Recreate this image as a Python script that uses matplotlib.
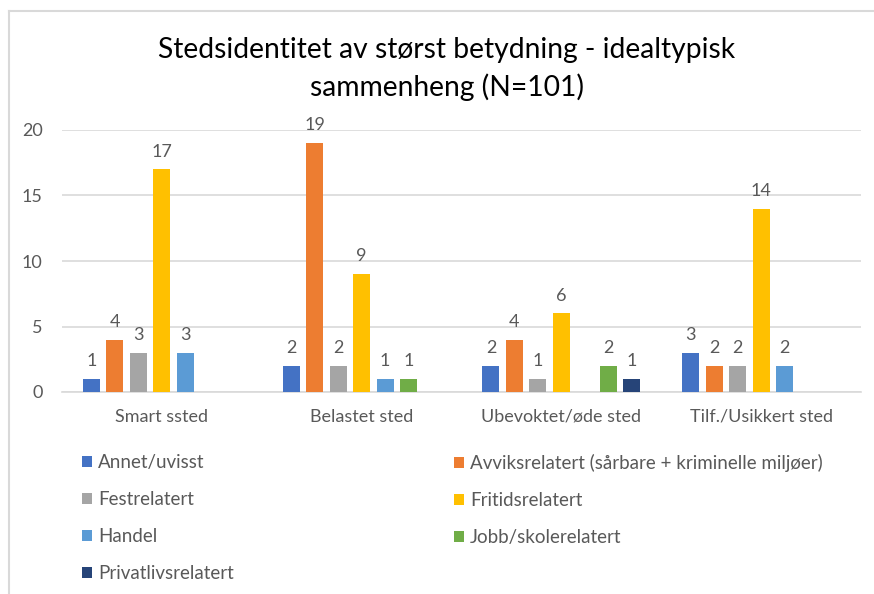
import matplotlib.pyplot as plt
from matplotlib.lines import Line2D
import numpy as np

plt.rcParams['font.family'] = ['Lato', 'DejaVu Sans']

categories = ["Smart ssted", "Belastet sted", "Ubevoktet/øde sted", "Tilf./Usikkert sted"]
series_names = ["Annet/uvisst", "Avviksrelatert (sårbare + kriminelle miljøer)", "Festrelatert",
                "Fritidsrelatert", "Handel", "Jobb/skolerelatert", "Privatlivsrelatert"]
annet = [1, 2, 2, 3]
avvik = [4, 19, 4, 2]
fest = [3, 2, 1, 2]
fritid = [17, 9, 6, 14]
handel = [3, 1, 0, 2]
jobb = [0, 1, 2, 0]
privat = [0, 0, 1, 0]
colors = ["#4472C4", "#ED7D31", "#A5A5A5", "#FFC000", "#5B9BD5", "#70AD47", "#264478"]

values = [annet, avvik, fest, fritid, handel, jobb, privat]
text_col = "#595959"
grid_col = "#D9D9D9"

fig = plt.figure(figsize=(8.74, 5.94), dpi=100)
ax = fig.add_axes([62 / 874, 1 - 392 / 594, 799 / 874, 262 / 594])

x = np.arange(len(categories))
slot = 0.1175
width = 0.085
handles = []
for j, (name, vals, c) in enumerate(zip(series_names, values, colors)):
    bars = ax.bar(x + (j - 3) * slot, vals, width, color=c, label=name, zorder=3)
    ax.bar_label(bars, labels=['' if v == 0 else str(v) for v in vals],
                 padding=7, color=text_col, fontsize=13, clip_on=False)
    handles.append(bars)

ax.set_xlim(-0.5, 3.5)
ax.set_ylim(0, 20)
ax.set_yticks([0, 5, 10, 15, 20])
ax.set_xticks(x)
ax.set_xticklabels(categories)
ax.tick_params(length=0, colors=text_col, labelsize=13)
ax.tick_params(axis='x', pad=12)
ax.tick_params(axis='y', pad=14)
ax.grid(axis='y', color=grid_col, linewidth=1.2, zorder=0)
for s in ['top', 'right', 'left']:
    ax.spines[s].set_visible(False)
ax.spines['bottom'].set_color(grid_col)
ax.spines['bottom'].set_linewidth(1.2)

fig.text(447 / 874, 1 - 69 / 594, "Stedsidentitet av størst betydning - idealtypisk\nsammenheng (N=101)",
         ha='center', va='center', fontsize=20.3, color='black', linespacing=1.42)

# legend in two columns, row by row like Excel
leg_kw = dict(loc='upper left', frameon=False, fontsize=13.5, labelcolor=text_col,
              handlelength=0.55, handleheight=0.55, handletextpad=0.3,
              labelspacing=1.07, borderpad=0, borderaxespad=0)
left = [0, 2, 4, 6]
right = [1, 3, 5]
fig.legend([handles[i] for i in left], [series_names[i] for i in left],
           bbox_to_anchor=(82 / 874, 1 - 454 / 594), **leg_kw)
fig.legend([handles[i] for i in right], [series_names[i] for i in right],
           bbox_to_anchor=(454 / 874, 1 - 454 / 594), **leg_kw)

# chart border (top and left only visible in crop)
fig.add_artist(Line2D([9 / 874, 1], [1 - 11 / 594, 1 - 11 / 594], color=grid_col, lw=1.5))
fig.add_artist(Line2D([9 / 874, 9 / 874], [0, 1 - 11 / 594], color=grid_col, lw=1.5))

fig.savefig("out.png", dpi=100)
